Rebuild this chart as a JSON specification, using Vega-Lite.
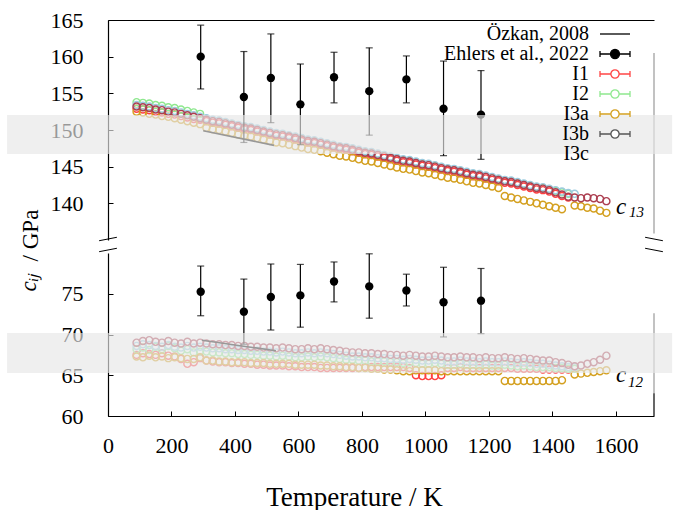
{
"$schema": "https://vega.github.io/schema/vega-lite/v6.json",
"padding": {"left": 7, "top": 9, "right": 0, "bottom": 0},
"background": "white",
"bounds": "flush",
"config": {
  "view": {"stroke": null},
  "font": "Liberation Serif, Times New Roman, serif",
  "text": {"font": "Liberation Serif, Times New Roman, serif"},
  "axis": {"labelFont": "Liberation Serif, Times New Roman, serif", "titleFont": "Liberation Serif, Times New Roman, serif", "labelFontSize": 22, "titleFontSize": 23, "labelColor": "black", "titleColor": "black", "domainColor": "black", "tickColor": "black", "grid": false, "titleFontWeight": "normal", "tickSize": -5, "domainWidth": 1.2},
  "legend": {"labelFont": "Liberation Serif, Times New Roman, serif", "symbolOpacity": 1}
},
"datasets": {
  "simTop": [
    {"T":90,"I1":152.9,"I2":153.8,"I3a":152.5,"I3b":153.4,"I3c":153.2},
    {"T":110,"I1":152.8,"I2":153.7,"I3a":152.4,"I3b":153.3,"I3c":153.1},
    {"T":130,"I1":152.7,"I2":153.6,"I3a":152.2,"I3b":153.2,"I3c":153.0},
    {"T":150,"I1":152.5,"I2":153.4,"I3a":152.1,"I3b":153.0,"I3c":152.8},
    {"T":170,"I1":152.4,"I2":153.3,"I3a":151.9,"I3b":152.9,"I3c":152.7},
    {"T":190,"I1":152.2,"I2":153.1,"I3a":151.8,"I3b":152.7,"I3c":152.5},
    {"T":210,"I1":152.1,"I2":153.0,"I3a":151.6,"I3b":152.6,"I3c":152.4},
    {"T":230,"I1":151.9,"I2":152.8,"I3a":151.4,"I3b":152.4,"I3c":152.2},
    {"T":250,"I1":151.7,"I2":152.6,"I3a":151.2,"I3b":152.2,"I3c":152.0},
    {"T":270,"I1":151.5,"I2":152.4,"I3a":151.0,"I3b":152.0,"I3c":151.8},
    {"T":290,"I1":151.4,"I2":152.2,"I3a":150.8,"I3b":151.8,"I3c":151.6},
    {"T":310,"I1":151.2,"I2":151.5,"I3a":150.3,"I3b":151.6,"I3c":151.4},
    {"T":330,"I1":151.0,"I2":151.3,"I3a":150.1,"I3b":151.4,"I3c":151.2},
    {"T":350,"I1":150.9,"I2":151.2,"I3a":150.0,"I3b":151.3,"I3c":151.1},
    {"T":370,"I1":150.7,"I2":151.0,"I3a":149.8,"I3b":151.1,"I3c":150.9},
    {"T":390,"I1":150.5,"I2":150.8,"I3a":149.6,"I3b":150.9,"I3c":150.7},
    {"T":410,"I1":150.3,"I2":150.6,"I3a":149.4,"I3b":150.7,"I3c":150.5},
    {"T":430,"I1":150.1,"I2":150.4,"I3a":149.2,"I3b":150.5,"I3c":150.3},
    {"T":450,"I1":150.0,"I2":150.3,"I3a":149.1,"I3b":150.4,"I3c":150.2},
    {"T":470,"I1":149.8,"I2":150.1,"I3a":148.9,"I3b":150.2,"I3c":150.0},
    {"T":490,"I1":149.6,"I2":149.9,"I3a":148.7,"I3b":150.0,"I3c":149.8},
    {"T":510,"I1":149.4,"I2":149.7,"I3a":148.5,"I3b":149.8,"I3c":149.6},
    {"T":530,"I1":149.2,"I2":149.5,"I3a":148.3,"I3b":149.6,"I3c":149.4},
    {"T":550,"I1":149.1,"I2":149.4,"I3a":148.2,"I3b":149.5,"I3c":149.3},
    {"T":570,"I1":148.9,"I2":149.2,"I3a":148.0,"I3b":149.3,"I3c":149.1},
    {"T":590,"I1":148.7,"I2":149.0,"I3a":147.8,"I3b":149.1,"I3c":148.9},
    {"T":610,"I1":148.5,"I2":148.8,"I3a":147.6,"I3b":148.9,"I3c":148.7},
    {"T":630,"I1":148.3,"I2":148.6,"I3a":147.4,"I3b":148.7,"I3c":148.5},
    {"T":650,"I1":148.2,"I2":148.5,"I3a":147.3,"I3b":148.6,"I3c":148.4},
    {"T":670,"I1":148.0,"I2":148.3,"I3a":147.1,"I3b":148.4,"I3c":148.2},
    {"T":690,"I1":147.8,"I2":148.1,"I3a":146.9,"I3b":148.2,"I3c":148.0},
    {"T":710,"I1":147.6,"I2":147.9,"I3a":146.7,"I3b":148.0,"I3c":147.8},
    {"T":730,"I1":147.4,"I2":147.7,"I3a":146.5,"I3b":147.8,"I3c":147.6},
    {"T":750,"I1":147.3,"I2":147.6,"I3a":146.4,"I3b":147.7,"I3c":147.5},
    {"T":770,"I1":147.1,"I2":147.4,"I3a":146.2,"I3b":147.5,"I3c":147.3},
    {"T":790,"I1":146.9,"I2":147.2,"I3a":146.0,"I3b":147.3,"I3c":147.1},
    {"T":810,"I1":146.7,"I2":147.0,"I3a":145.8,"I3b":147.1,"I3c":146.9},
    {"T":830,"I1":146.6,"I2":146.9,"I3a":145.7,"I3b":147.0,"I3c":146.8},
    {"T":850,"I1":146.4,"I2":146.7,"I3a":145.5,"I3b":146.8,"I3c":146.6},
    {"T":870,"I1":146.2,"I2":146.5,"I3a":145.3,"I3b":146.6,"I3c":146.4},
    {"T":890,"I1":146.0,"I2":146.3,"I3a":145.1,"I3b":146.4,"I3c":146.2},
    {"T":910,"I1":145.8,"I2":146.1,"I3a":144.9,"I3b":146.2,"I3c":146.0},
    {"T":930,"I1":145.6,"I2":145.9,"I3a":144.7,"I3b":146.0,"I3c":145.8},
    {"T":950,"I1":145.5,"I2":145.8,"I3a":144.6,"I3b":145.9,"I3c":145.7},
    {"T":970,"I1":145.3,"I2":145.6,"I3a":144.4,"I3b":145.7,"I3c":145.5},
    {"T":990,"I1":145.1,"I2":145.4,"I3a":144.2,"I3b":145.5,"I3c":145.3},
    {"T":1010,"I1":145.0,"I2":145.3,"I3a":144.1,"I3b":145.4,"I3c":145.2},
    {"T":1030,"I1":144.8,"I2":145.1,"I3a":143.9,"I3b":145.2,"I3c":145.0},
    {"T":1050,"I1":144.6,"I2":144.9,"I3a":143.7,"I3b":145.0,"I3c":144.8},
    {"T":1070,"I1":144.4,"I2":144.7,"I3a":143.5,"I3b":144.8,"I3c":144.6},
    {"T":1090,"I1":144.3,"I2":144.6,"I3a":143.4,"I3b":144.7,"I3c":144.5},
    {"T":1110,"I1":144.1,"I2":144.4,"I3a":143.2,"I3b":144.5,"I3c":144.3},
    {"T":1130,"I1":143.9,"I2":144.2,"I3a":143.0,"I3b":144.3,"I3c":144.1},
    {"T":1150,"I1":143.7,"I2":144.0,"I3a":142.8,"I3b":144.1,"I3c":143.9},
    {"T":1170,"I1":143.6,"I2":143.9,"I3a":142.7,"I3b":144.0,"I3c":143.8},
    {"T":1190,"I1":143.4,"I2":143.7,"I3a":142.5,"I3b":143.8,"I3c":143.6},
    {"T":1210,"I1":143.2,"I2":143.5,"I3a":142.3,"I3b":143.6,"I3c":143.4},
    {"T":1230,"I1":143.0,"I2":143.3,"I3a":142.1,"I3b":143.4,"I3c":143.2},
    {"T":1250,"I1":142.8,"I2":143.1,"I3a":141.0,"I3b":143.2,"I3c":143.0},
    {"T":1270,"I1":142.7,"I2":143.0,"I3a":140.8,"I3b":143.1,"I3c":142.9},
    {"T":1290,"I1":142.5,"I2":142.8,"I3a":140.6,"I3b":142.9,"I3c":142.7},
    {"T":1310,"I1":142.3,"I2":142.6,"I3a":140.4,"I3b":142.7,"I3c":142.5},
    {"T":1330,"I1":142.1,"I2":142.4,"I3a":140.2,"I3b":142.5,"I3c":142.3},
    {"T":1350,"I1":141.9,"I2":142.2,"I3a":140.0,"I3b":142.3,"I3c":142.1},
    {"T":1370,"I1":141.8,"I2":142.1,"I3a":139.8,"I3b":142.2,"I3c":142.0},
    {"T":1390,"I1":141.6,"I2":141.9,"I3a":139.6,"I3b":142.0,"I3c":141.8},
    {"T":1410,"I1":141.3,"I2":141.7,"I3a":139.4,"I3b":141.8,"I3c":141.5},
    {"T":1430,"I1":141.0,"I2":141.5,"I3a":139.2,"I3b":141.6,"I3c":141.2},
    {"T":1450,"I1":140.8,"I2":141.3,"I3b":141.4,"I3c":140.9},
    {"T":1470,"I3a":139.7,"I3b":141.3,"I3c":140.8},
    {"T":1490,"I3a":139.6,"I3c":140.7},
    {"T":1510,"I3a":139.4,"I3c":140.8},
    {"T":1530,"I3a":139.3,"I3c":140.7},
    {"T":1550,"I3a":139.0,"I3c":140.6},
    {"T":1570,"I3a":138.7,"I3c":140.3}
  ],
  "simBot": [
    {"T":90,"I1":67.5,"I2":68.2,"I3a":67.3,"I3b":68.6,"I3c":69.0},
    {"T":110,"I1":67.7,"I2":68.4,"I3a":67.2,"I3b":68.8,"I3c":69.2},
    {"T":130,"I1":67.6,"I2":68.1,"I3a":67.4,"I3b":68.7,"I3c":69.3},
    {"T":150,"I1":67.5,"I2":68.5,"I3a":67.2,"I3b":68.6,"I3c":69.1},
    {"T":170,"I1":67.7,"I2":68.2,"I3a":67.3,"I3b":68.5,"I3c":69.0},
    {"T":190,"I1":67.4,"I2":68.6,"I3a":67.1,"I3b":68.7,"I3c":69.2},
    {"T":210,"I1":67.3,"I2":68.3,"I3a":67.2,"I3b":68.5,"I3c":69.0},
    {"T":230,"I1":67.0,"I2":68.0,"I3a":67.1,"I3b":68.4,"I3c":68.9},
    {"T":250,"I1":66.4,"I2":68.2,"I3a":67.0,"I3b":68.6,"I3c":69.1},
    {"T":270,"I1":66.6,"I2":67.8,"I3a":67.0,"I3b":68.4,"I3c":68.9},
    {"T":290,"I1":67.1,"I2":67.9,"I3a":67.2,"I3b":68.5,"I3c":69.0},
    {"T":310,"I1":66.8,"I2":67.9,"I3a":66.8,"I3b":68.4,"I3c":68.9},
    {"T":330,"I1":66.7,"I2":67.8,"I3a":66.8,"I3b":68.3,"I3c":68.8},
    {"T":350,"I1":66.6,"I2":67.8,"I3a":66.7,"I3b":68.3,"I3c":68.8},
    {"T":370,"I1":66.6,"I2":67.7,"I3a":66.7,"I3b":68.2,"I3c":68.7},
    {"T":390,"I1":66.5,"I2":67.7,"I3a":66.6,"I3b":68.2,"I3c":68.7},
    {"T":410,"I1":66.5,"I2":67.6,"I3a":66.6,"I3b":68.1,"I3c":68.6},
    {"T":430,"I1":66.4,"I2":67.6,"I3a":66.6,"I3b":68.1,"I3c":68.6},
    {"T":450,"I1":66.4,"I2":67.5,"I3a":66.5,"I3b":68.0,"I3c":68.5},
    {"T":470,"I1":66.3,"I2":67.5,"I3a":66.5,"I3b":68.0,"I3c":68.5},
    {"T":490,"I1":66.3,"I2":67.4,"I3a":66.5,"I3b":67.9,"I3c":68.4},
    {"T":510,"I1":66.2,"I2":67.4,"I3a":66.4,"I3b":67.9,"I3c":68.4},
    {"T":530,"I1":66.2,"I2":67.3,"I3a":66.4,"I3b":67.8,"I3c":68.3},
    {"T":550,"I1":66.2,"I2":67.4,"I3a":66.4,"I3b":67.9,"I3c":68.4},
    {"T":570,"I1":66.1,"I2":67.3,"I3a":66.4,"I3b":67.8,"I3c":68.3},
    {"T":590,"I1":66.1,"I2":67.2,"I3a":66.3,"I3b":67.7,"I3c":68.2},
    {"T":610,"I1":66.0,"I2":67.2,"I3a":66.3,"I3b":67.7,"I3c":68.2},
    {"T":630,"I1":66.0,"I2":67.3,"I3a":66.3,"I3b":67.8,"I3c":68.3},
    {"T":650,"I1":66.0,"I2":67.2,"I3a":66.3,"I3b":67.7,"I3c":68.2},
    {"T":670,"I1":65.9,"I2":67.3,"I3a":66.2,"I3b":67.8,"I3c":68.3},
    {"T":690,"I1":65.9,"I2":67.2,"I3a":66.2,"I3b":67.7,"I3c":68.2},
    {"T":710,"I1":65.9,"I2":67.1,"I3a":66.1,"I3b":67.6,"I3c":68.1},
    {"T":730,"I1":65.9,"I2":67.0,"I3a":66.1,"I3b":67.5,"I3c":68.0},
    {"T":750,"I1":65.9,"I2":66.9,"I3a":66.0,"I3b":67.4,"I3c":67.9},
    {"T":770,"I1":65.9,"I2":66.9,"I3a":66.0,"I3b":67.3,"I3c":67.8},
    {"T":790,"I1":65.9,"I2":66.8,"I3a":65.9,"I3b":67.3,"I3c":67.8},
    {"T":810,"I1":66.0,"I2":66.8,"I3a":65.9,"I3b":67.2,"I3c":67.7},
    {"T":830,"I1":66.0,"I2":66.7,"I3a":65.8,"I3b":67.2,"I3c":67.7},
    {"T":850,"I1":66.0,"I2":66.7,"I3a":65.8,"I3b":67.1,"I3c":67.6},
    {"T":870,"I1":66.0,"I2":66.7,"I3a":65.7,"I3b":67.1,"I3c":67.6},
    {"T":890,"I1":66.0,"I2":66.6,"I3a":65.7,"I3b":67.0,"I3c":67.5},
    {"T":910,"I1":66.0,"I2":66.6,"I3a":65.6,"I3b":67.0,"I3c":67.5},
    {"T":930,"I1":66.0,"I2":66.5,"I3a":65.5,"I3b":66.9,"I3c":67.4},
    {"T":950,"I1":65.9,"I2":66.6,"I3a":65.5,"I3b":67.0,"I3c":67.5},
    {"T":970,"I1":65.0,"I2":66.5,"I3a":65.6,"I3b":66.9,"I3c":67.4},
    {"T":990,"I1":64.9,"I2":66.4,"I3a":65.6,"I3b":66.8,"I3c":67.3},
    {"T":1010,"I1":64.9,"I2":66.4,"I3a":65.6,"I3b":66.8,"I3c":67.3},
    {"T":1030,"I1":64.9,"I2":66.5,"I3a":65.6,"I3b":66.9,"I3c":67.4},
    {"T":1050,"I1":65.0,"I2":66.4,"I3a":65.5,"I3b":66.8,"I3c":67.3},
    {"T":1070,"I1":65.9,"I2":66.3,"I3a":65.5,"I3b":66.7,"I3c":67.2},
    {"T":1090,"I1":65.9,"I2":66.3,"I3a":65.5,"I3b":66.7,"I3c":67.2},
    {"T":1110,"I1":66.0,"I2":66.4,"I3a":65.5,"I3b":66.8,"I3c":67.3},
    {"T":1130,"I1":65.9,"I2":66.3,"I3a":65.5,"I3b":66.7,"I3c":67.2},
    {"T":1150,"I1":65.9,"I2":66.3,"I3a":65.5,"I3b":66.7,"I3c":67.2},
    {"T":1170,"I1":65.9,"I2":66.2,"I3a":65.5,"I3b":66.6,"I3c":67.1},
    {"T":1190,"I1":65.9,"I2":66.3,"I3a":65.5,"I3b":66.7,"I3c":67.2},
    {"T":1210,"I1":65.9,"I2":66.2,"I3a":65.5,"I3b":66.6,"I3c":67.1},
    {"T":1230,"I1":65.9,"I2":66.2,"I3a":65.5,"I3b":66.6,"I3c":67.1},
    {"T":1250,"I1":65.9,"I2":66.3,"I3a":64.3,"I3b":66.7,"I3c":67.2},
    {"T":1270,"I1":65.9,"I2":66.2,"I3a":64.3,"I3b":66.6,"I3c":67.1},
    {"T":1290,"I1":65.8,"I2":66.1,"I3a":64.3,"I3b":66.5,"I3c":67.0},
    {"T":1310,"I1":65.8,"I2":66.2,"I3a":64.3,"I3b":66.6,"I3c":67.1},
    {"T":1330,"I1":65.8,"I2":66.1,"I3a":64.3,"I3b":66.5,"I3c":67.0},
    {"T":1350,"I1":65.8,"I2":66.0,"I3a":64.3,"I3b":66.4,"I3c":66.9},
    {"T":1370,"I1":65.7,"I2":66.0,"I3a":64.3,"I3b":66.4,"I3c":66.8},
    {"T":1390,"I1":65.7,"I2":66.0,"I3a":64.3,"I3b":66.3,"I3c":66.8},
    {"T":1410,"I1":65.7,"I2":65.9,"I3a":64.3,"I3b":66.2,"I3c":66.6},
    {"T":1430,"I1":65.7,"I2":65.9,"I3a":64.4,"I3b":66.1,"I3c":66.5},
    {"T":1450,"I1":65.7,"I2":65.8,"I3b":66.0,"I3c":66.3},
    {"T":1470,"I2":65.8,"I3a":65.1,"I3b":66.0,"I3c":66.1},
    {"T":1490,"I3a":65.2,"I3c":66.2},
    {"T":1510,"I3a":65.3,"I3c":66.4},
    {"T":1530,"I3a":65.4,"I3c":66.6},
    {"T":1550,"I3a":65.5,"I3c":66.9},
    {"T":1570,"I3a":65.6,"I3c":67.4}
  ],
  "ehlers": [
    {"T":292,"t":160.0,"tlo":155.6,"thi":164.3,"b":75.25,"blo":72.3,"bhi":78.4},
    {"T":428,"t":154.5,"tlo":148.3,"thi":160.7,"b":72.8,"blo":68.8,"bhi":76.8},
    {"T":513,"t":157.1,"tlo":151.0,"thi":163.1,"b":74.6,"blo":70.55,"bhi":78.65},
    {"T":606,"t":153.5,"tlo":148.0,"thi":159.0,"b":74.8,"blo":70.9,"bhi":78.6},
    {"T":712,"t":157.2,"tlo":153.7,"thi":160.6,"b":76.5,"blo":74.0,"bhi":78.9},
    {"T":823,"t":155.3,"tlo":149.3,"thi":161.2,"b":75.9,"blo":72.0,"bhi":79.9},
    {"T":940,"t":156.9,"tlo":153.7,"thi":160.1,"b":75.4,"blo":73.5,"bhi":77.4},
    {"T":1057,"t":152.9,"tlo":146.5,"thi":159.4,"b":73.95,"blo":69.7,"bhi":78.25},
    {"T":1175,"t":152.1,"tlo":146.0,"thi":158.1,"b":74.15,"blo":70.1,"bhi":78.1}
  ],
  "ozkTop": [{"T":300,"v":149.9},{"T":523,"v":147.9}],
  "ozkBot": [{"T":296,"v":69.3},{"T":529,"v":68.0}]
},
"vconcat": [
  {
    "width": 546, "height": 220,
    "layer": [
      {
        "data": {"name": "simTop"},
        "transform": [{"fold": ["I1","I2","I3a","I3b","I3c"], "as": ["s","v"]}, {"filter": "isValid(datum.v)"}],
        "mark": {"type": "point", "size": 50, "strokeWidth": 1.4, "filled": false, "opacity": 1},
        "encoding": {
          "x": {"field": "T", "type": "quantitative", "title": null, "scale": {"domain": [0, 1720], "nice": false}, "axis": {"orient": "top", "labels": false, "ticks": false, "title": null}},
          "y": {"field": "v", "type": "quantitative", "title": "/ GPa", "scale": {"domain": [135, 165], "nice": false, "zero": false}, "axis": {"values": [140,145,150,155,160,165], "labelFont": "Liberation Serif", "labelPadding": 30, "titleX": -78, "titleY": 215, "titleAlign": "center", "titleBaseline": "middle"}},
          "color": {"field": "s", "type": "nominal",
            "scale": {"domain": ["I1","I2","I3a","I3b","I3c"], "range": ["#ff4040","#8fe88f","#d4a020","#9ccbdf","#ac3e50"]},
            "legend": null},
          "order": {"field": "s", "type": "nominal"}
        }
      },
      {
        "data": {"name": "ehlers"},
        "transform": [{"filter": "false"}],
        "mark": {"type": "point", "opacity": 1},
        "encoding": {
          "x": {"field": "T", "type": "quantitative", "title": null},
          "y": {"field": "t", "type": "quantitative", "title": "/ GPa"},
          "stroke": {"field": "s", "type": "nominal",
            "scale": {"domain": ["Özkan, 2008","Ehlers et al., 2022","I1","I2","I3a","I3b","I3c"], "range": ["black","black","#ff4545","#8fe88f","#d4a020","#555555","transparent"]},
            "legend": {"orient": "none", "legendX": 497, "legendY": 4, "title": null, "padding": 0, "symbolSize": 225, "symbolStrokeWidth": 1.3, "symbolOpacity": 1, "labelFontSize": 20, "labelColor": "black", "labelAlign": "right", "labelOffset": -36, "rowPadding": 0, "labelLimit": 300}},
          "fill": {"field": "s", "type": "nominal",
            "scale": {"domain": ["Özkan, 2008","Ehlers et al., 2022","I1","I2","I3a","I3b","I3c"], "range": ["transparent","black","white","white","white","white","transparent"]},
            "legend": {"orient": "none", "legendX": 497, "legendY": 4, "title": null, "padding": 0, "symbolSize": 225, "symbolStrokeWidth": 1.3, "symbolOpacity": 1, "labelFontSize": 20, "labelColor": "black", "labelAlign": "right", "labelOffset": -36, "rowPadding": 0, "labelLimit": 300}},
          "shape": {"field": "s", "type": "nominal",
            "scale": {"domain": ["Özkan, 2008","Ehlers et al., 2022","I1","I2","I3a","I3b","I3c"], "range": [
              "M-2,0L2,0",
              "M-2,0L2,0M-2,-0.4L-2,0.4M2,-0.4L2,0.4M0.6,0A0.6,0.6,0,1,1,-0.6,0A0.6,0.6,0,1,1,0.6,0",
              "M-2,0L-0.55,0M0.55,0L2,0M-2,-0.4L-2,0.4M2,-0.4L2,0.4M0.55,0A0.55,0.55,0,1,1,-0.55,0A0.55,0.55,0,1,1,0.55,0",
              "M-2,0L-0.55,0M0.55,0L2,0M-2,-0.4L-2,0.4M2,-0.4L2,0.4M0.55,0A0.55,0.55,0,1,1,-0.55,0A0.55,0.55,0,1,1,0.55,0",
              "M-2,0L-0.55,0M0.55,0L2,0M-2,-0.4L-2,0.4M2,-0.4L2,0.4M0.55,0A0.55,0.55,0,1,1,-0.55,0A0.55,0.55,0,1,1,0.55,0",
              "M-2,0L-0.55,0M0.55,0L2,0M-2,-0.4L-2,0.4M2,-0.4L2,0.4M0.55,0A0.55,0.55,0,1,1,-0.55,0A0.55,0.55,0,1,1,0.55,0",
              "M0,0"]},
            "legend": {"orient": "none", "legendX": 497, "legendY": 4, "title": null, "padding": 0, "symbolSize": 225, "symbolStrokeWidth": 1.3, "symbolOpacity": 1, "labelFontSize": 20, "labelColor": "black", "labelAlign": "right", "labelOffset": -36, "rowPadding": 0, "labelLimit": 300}}
        }
      },
      {
        "data": {"name": "ozkTop"},
        "mark": {"type": "line", "color": "black", "strokeWidth": 1.6},
        "encoding": {"x": {"field": "T", "type": "quantitative", "title": null}, "y": {"field": "v", "type": "quantitative", "title": "/ GPa"}}
      },
      {
        "data": {"name": "ehlers"},
        "mark": {"type": "errorbar", "ticks": {"size": 7}, "thickness": 1.2, "color": "black"},
        "encoding": {"x": {"field": "T", "type": "quantitative", "title": null}, "y": {"field": "tlo", "type": "quantitative", "title": "/ GPa"}, "y2": {"field": "thi"}}
      },
      {
        "data": {"name": "ehlers"},
        "mark": {"type": "point", "filled": true, "size": 70, "color": "black", "opacity": 1},
        "encoding": {"x": {"field": "T", "type": "quantitative", "title": null}, "y": {"field": "t", "type": "quantitative", "title": "/ GPa"}}
      },
      {
        "data": {"values": [{}]},
        "mark": {"type": "text", "text": "c", "font": "Liberation Serif, Times New Roman, serif", "fontStyle": "italic", "fontSize": 23, "baseline": "alphabetic", "align": "center"},
        "encoding": {"x": {"datum": 1616}, "y": {"datum": 138.6}}
      },
      {
        "data": {"values": [{}]},
        "mark": {"type": "text", "text": "13", "font": "Liberation Serif, Times New Roman, serif", "fontStyle": "italic", "fontSize": 15, "baseline": "alphabetic", "align": "center"},
        "encoding": {"x": {"datum": 1665}, "y": {"datum": 138.1}}
      },
      {
        "data": {"values": [{}]},
        "mark": {"type": "rule", "color": "#999999", "strokeWidth": 1.2},
        "encoding": {"x": {"datum": 1720}, "y": {"datum": 135.9}, "y2": {"datum": 160.5}}
      },
      {
        "data": {"values": [{}]},
        "mark": {"type": "rule", "color": "black", "strokeWidth": 1},
        "encoding": {"x": {"datum": -28}, "x2": {"datum": 28}, "y": {"datum": 134.9}, "y2": {"datum": 135.37}}
      },
      {
        "data": {"values": [{}]},
        "mark": {"type": "rule", "color": "black", "strokeWidth": 1},
        "encoding": {"x": {"datum": 1692}, "x2": {"datum": 1748}, "y": {"datum": 135.37}, "y2": {"datum": 134.9}}
      },
      {
        "data": {"values": [{}]},
        "mark": {"type": "rect", "color": "#e6e6e6", "opacity": 0.66},
        "encoding": {"x": {"datum": -318}, "x2": {"datum": 1777}, "y": {"datum": 146.72}, "y2": {"datum": 152.04}}
      }
    ]
  },
  {
    "width": 546, "height": 163,
    "layer": [
      {
        "data": {"name": "simBot"},
        "transform": [{"fold": ["I1","I2","I3a","I3b","I3c"], "as": ["s","v"]}, {"filter": "isValid(datum.v)"}],
        "mark": {"type": "point", "size": 50, "strokeWidth": 1.4, "filled": false, "opacity": 1},
        "encoding": {
          "x": {"field": "T", "type": "quantitative", "title": "Temperature / K", "scale": {"domain": [0, 1720], "nice": false},
            "axis": {"values": [0,100,200,300,400,500,600,700,800,900,1000,1100,1200,1300,1400,1500,1600,1700], "format": "d", "labelFont": "Liberation Serif", "labelExpr": "datum.value % 200 == 0 && datum.value <= 1600 ? datum.label : ''", "labelPadding": 24, "titleFontSize": 27, "titleX": 246, "titleY": 89, "titleAlign": "center", "titleBaseline": "alphabetic", "labelFlush": false, "labelOverlap": false}},
          "y": {"field": "v", "type": "quantitative", "title": "cᵢⱼ", "scale": {"domain": [60, 80], "nice": false, "zero": false}, "axis": {"values": [60,65,70,75], "labelFont": "Liberation Serif", "labelPadding": 30, "titleFontStyle": "italic", "titleX": -80, "titleY": 29, "titleAlign": "center", "titleBaseline": "middle"}},
          "color": {"field": "s", "type": "nominal",
            "scale": {"domain": ["I1","I2","I3a","I3b","I3c"], "range": ["#ff4040","#8fe88f","#d4a020","#9ccbdf","#ac3e50"]},
            "legend": null},
          "order": {"field": "s", "type": "nominal"}
        }
      },
      {
        "data": {"name": "ozkBot"},
        "mark": {"type": "line", "color": "black", "strokeWidth": 1.6},
        "encoding": {"x": {"field": "T", "type": "quantitative", "title": "Temperature / K"}, "y": {"field": "v", "type": "quantitative", "title": "cᵢⱼ"}}
      },
      {
        "data": {"name": "ehlers"},
        "mark": {"type": "errorbar", "ticks": {"size": 7}, "thickness": 1.2, "color": "black"},
        "encoding": {"x": {"field": "T", "type": "quantitative", "title": "Temperature / K"}, "y": {"field": "blo", "type": "quantitative", "title": "cᵢⱼ"}, "y2": {"field": "bhi"}}
      },
      {
        "data": {"name": "ehlers"},
        "mark": {"type": "point", "filled": true, "size": 70, "color": "black", "opacity": 1},
        "encoding": {"x": {"field": "T", "type": "quantitative", "title": "Temperature / K"}, "y": {"field": "b", "type": "quantitative", "title": "cᵢⱼ"}}
      },
      {
        "data": {"values": [{}]},
        "mark": {"type": "text", "text": "c", "font": "Liberation Serif, Times New Roman, serif", "fontStyle": "italic", "fontSize": 23, "baseline": "alphabetic", "align": "center"},
        "encoding": {"x": {"datum": 1616}, "y": {"datum": 64.2}}
      },
      {
        "data": {"values": [{}]},
        "mark": {"type": "text", "text": "12", "font": "Liberation Serif, Times New Roman, serif", "fontStyle": "italic", "fontSize": 15, "baseline": "alphabetic", "align": "center"},
        "encoding": {"x": {"datum": 1662}, "y": {"datum": 63.6}}
      },
      {
        "data": {"values": [{}]},
        "mark": {"type": "rule", "color": "#999999", "strokeWidth": 1.2},
        "encoding": {"x": {"datum": 1720}, "y": {"datum": 62.8}, "y2": {"datum": 72.6}}
      },
      {
        "data": {"values": [{}]},
        "mark": {"type": "rule", "color": "black", "strokeWidth": 1.2},
        "encoding": {"x": {"datum": 1720}, "y": {"datum": 60}, "y2": {"datum": 62.8}}
      },
      {
        "data": {"values": [{}]},
        "mark": {"type": "rule", "color": "black", "strokeWidth": 1},
        "encoding": {"x": {"datum": -28}, "x2": {"datum": 28}, "y": {"datum": 80.16}, "y2": {"datum": 80.58}}
      },
      {
        "data": {"values": [{}]},
        "mark": {"type": "rule", "color": "black", "strokeWidth": 1},
        "encoding": {"x": {"datum": 1692}, "x2": {"datum": 1748}, "y": {"datum": 80.58}, "y2": {"datum": 80.16}}
      },
      {
        "data": {"values": [{}]},
        "mark": {"type": "rect", "color": "#e6e6e6", "opacity": 0.66},
        "encoding": {"x": {"datum": -318}, "x2": {"datum": 1777}, "y": {"datum": 65.28}, "y2": {"datum": 70.18}}
      }
    ]
  }
],
"spacing": 13,
"resolve": {"scale": {"y": "independent", "color": "independent", "stroke": "independent", "fill": "independent", "shape": "independent"}}
}
